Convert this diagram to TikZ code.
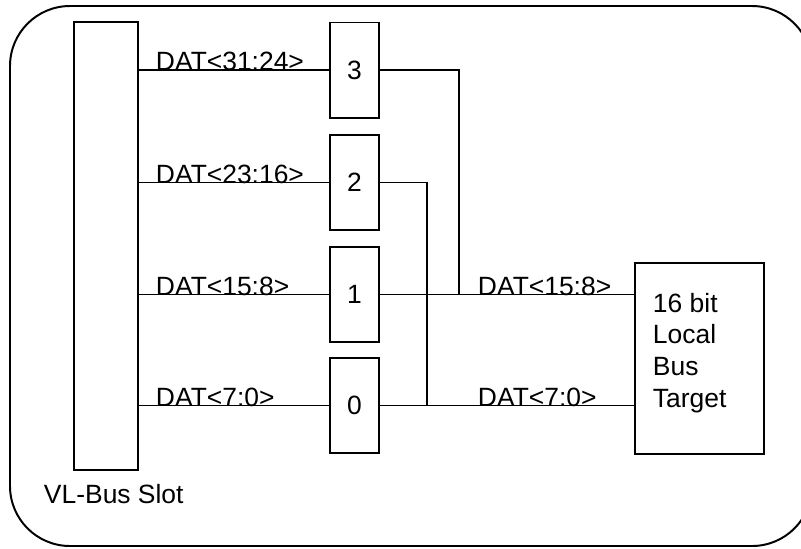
\documentclass[tikz,border=0pt]{standalone}
\usepackage{fontspec}
\setmainfont{Liberation Sans}
\usepackage{tikz}
\usetikzlibrary{positioning}

\begin{document}
\begin{tikzpicture}[
    x=0.025cm, y=-0.025cm,
    line width=1.4pt,
    %% ── Base text style ──
    txt/.style={font=\fontsize{18.8}{22.5}\selectfont, inner sep=0pt},
    %% ── Box styles ──
    slotbox/.style={rectangle, draw, minimum width=1.6cm,
        minimum height=11.2cm, inner sep=0pt},
    lane/.style={rectangle, draw, txt, minimum width=1.225cm,
        minimum height=2.375cm},
    target/.style={rectangle, draw, inner sep=0pt, minimum width=3.225cm,
        minimum height=4.775cm},
    %% ── Label style ──
    buslabel/.style={txt, anchor=base west},
]

% ── Frame ──
\useasboundingbox (0,0) rectangle (801,548);
\clip (0,0) rectangle (801,548);
\draw[rounded corners=1.5cm] (10,6) rectangle (812,546);

% ── Slot ──
\node[slotbox] (slot) at (106,246) {};
\node[txt, anchor=base west] (slotname) at (43,503) {VL-Bus Slot};

% ── Byte lanes ──
\node[lane] (b3) at (354.5,70)    {3};
\node[lane] (b2) at (354.5,182.5) {2};
\node[lane] (b1) at (354.5,294.5) {1};
\node[lane] (b0) at (354.5,405.5) {0};

% ── Target ──
\node[target] (tgt) at (699.5,358.5) {};
\node[txt, align=left, anchor=base west] (tgtname) at (652,407)
    {16 bit\\Local\\Bus\\Target};

% Slot -> lanes
\draw (slot.east |- b3.west) -- (b3.west);
\draw (slot.east |- b2.west) -- (b2.west);
\draw (slot.east |- b1.west) -- (b1.west);
\draw (slot.east |- b0.west) -- (b0.west);

% Lanes -> target
\coordinate (j3) at (459,294.5);
\coordinate (j2) at (427,405.5);
\draw (b3.east) -| (j3);
\draw (b2.east) -| (j2);
\draw (b1.east) -- (tgt.west |- b1.east);
\draw (b0.east) -- (tgt.west |- b0.east);

% ── Bus labels ──
\node[buslabel] (l3) at (155,70.5)  {DAT<31:24>};
\node[buslabel] (l2) at (155,183)   {DAT<23:16>};
\node[buslabel] (l1) at (155,295)   {DAT<15:8>};
\node[buslabel] (l0) at (155,406)   {DAT<7:0>};
\node[buslabel] (r1) at (477,295)   {DAT<15:8>};
\node[buslabel] (r0) at (477,406)   {DAT<7:0>};

\end{tikzpicture}
\end{document}
